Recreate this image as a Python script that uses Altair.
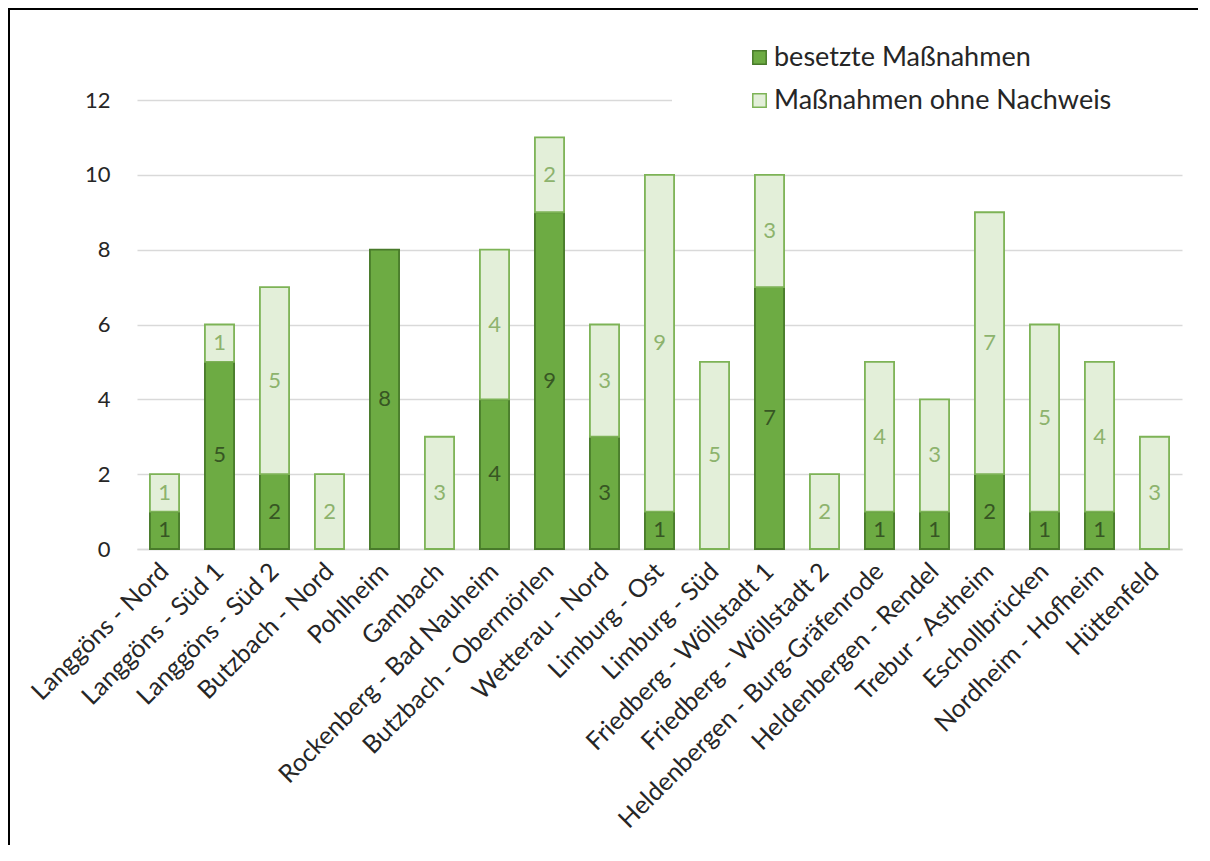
import altair as alt
import pandas as pd

kategorien = [
    "Langgöns - Nord", "Langgöns - Süd 1", "Langgöns - Süd 2", "Butzbach - Nord",
    "Pohlheim", "Gambach", "Rockenberg - Bad Nauheim", "Butzbach - Obermörlen",
    "Wetterau - Nord", "Limburg - Ost", "Limburg - Süd", "Friedberg - Wöllstadt 1",
    "Friedberg - Wöllstadt 2", "Heldenbergen - Burg-Gräfenrode", "Heldenbergen - Rendel",
    "Trebur - Astheim", "Eschollbrücken", "Nordheim - Hofheim", "Hüttenfeld",
]
besetzt = [1, 5, 2, 0, 8, 0, 4, 9, 3, 1, 0, 7, 0, 1, 1, 2, 1, 1, 0]
ohne_nachweis = [1, 1, 5, 2, 0, 3, 4, 2, 3, 9, 5, 3, 2, 4, 3, 7, 5, 4, 3]
serien = ["besetzte Maßnahmen", "Maßnahmen ohne Nachweis"]
y_ticks = [0, 2, 4, 6, 8, 10, 12]

rows = []
for k, a, b in zip(kategorien, besetzt, ohne_nachweis):
    rows.append({"kat": k, "serie": serien[0], "wert": a, "ord": 0})
    rows.append({"kat": k, "serie": serien[1], "wert": b, "ord": 1})
df = pd.DataFrame(rows)

FONT = "Lato"
fill_scale = alt.Scale(domain=serien, range=["#6dab43", "#e3efd9"])
stroke_scale = alt.Scale(domain=serien, range=["#487a2a", "#7db356"])
text_scale = alt.Scale(domain=serien, range=["#375623", "#8db36d"])

x_enc = alt.X(
    "kat:N", sort=kategorien, title=None,
    scale=alt.Scale(paddingInner=0.47, paddingOuter=0.235),
    axis=alt.Axis(labelAngle=-45, labelAlign="right", labelBaseline="middle",
                  labelFontSize=25, labelFont=FONT, labelColor="#262626",
                  labelPadding=18, labelLimit=500, ticks=False,
                  domainColor="#d9d9d9", domainWidth=1.5),
)

base = alt.Chart(df).transform_filter("datum.wert > 0")

bars = base.mark_bar(strokeWidth=1.8).encode(
    x=x_enc,
    y=alt.Y("wert:Q", stack="zero", title=None,
            scale=alt.Scale(domain=[0, 12], nice=False),
            axis=alt.Axis(values=y_ticks, domain=False, ticks=False,
                          labelFontSize=22, labelFont=FONT, labelColor="#262626",
                          labelPadding=27, gridColor="#d9d9d9", gridWidth=1.5)),
    order=alt.Order("ord:Q", sort="ascending"),
    fill=alt.Fill("serie:N", scale=fill_scale, title=None,
                  legend=alt.Legend(orient="none", legendX=609, legendY=-56,
                                    symbolType="square", symbolSize=180,
                                    symbolStrokeWidth=1.5, labelFontSize=27,
                                    labelFont=FONT, labelColor="#262626",
                                    labelLimit=600,
                                    rowPadding=15, labelOffset=1)),
    stroke=alt.Stroke("serie:N", scale=stroke_scale, title=None),
)

labels = base.transform_stack(
    stack="wert", groupby=["kat"], as_=["y0", "y1"],
    sort=[alt.SortField("ord", order="ascending")],
).transform_calculate(mid="(datum.y0 + datum.y1) / 2").mark_text(
    fontSize=22, font=FONT, baseline="middle"
).encode(
    x=alt.X("kat:N", sort=kategorien),
    y=alt.Y("mid:Q"),
    text=alt.Text("wert:Q"),
    color=alt.Color("serie:N", scale=text_scale, legend=None),
)

mask = alt.Chart(df).mark_rect(color="white").encode(
    x=alt.value(535), x2=alt.value(1050), y=alt.value(-6), y2=alt.value(6)
)
mask_right = alt.Chart(df).mark_rule(color="white", strokeWidth=8).encode(
    x=alt.value(1058), y=alt.value(-89), y2=alt.value(20)
)

border_top = alt.Chart(df).mark_rule(color="black", strokeWidth=3).encode(
    x=alt.value(-130), x2=alt.value(1061), y=alt.value(-92)
)
border_left = alt.Chart(df).mark_rule(color="black", strokeWidth=3).encode(
    x=alt.value(-129), y=alt.value(-93), y2=alt.value(760)
)

chart = alt.layer(bars, mask, mask_right, labels, border_top, border_left).properties(
    width=1045, height=449,
    autosize=alt.AutoSizeParams(type="none"),
    padding={"left": 129, "top": 92, "right": 16, "bottom": 296},
).configure(background="white").configure_view(stroke=None)

chart.save("out.html", embed_options={"renderer": "svg", "actions": False})
